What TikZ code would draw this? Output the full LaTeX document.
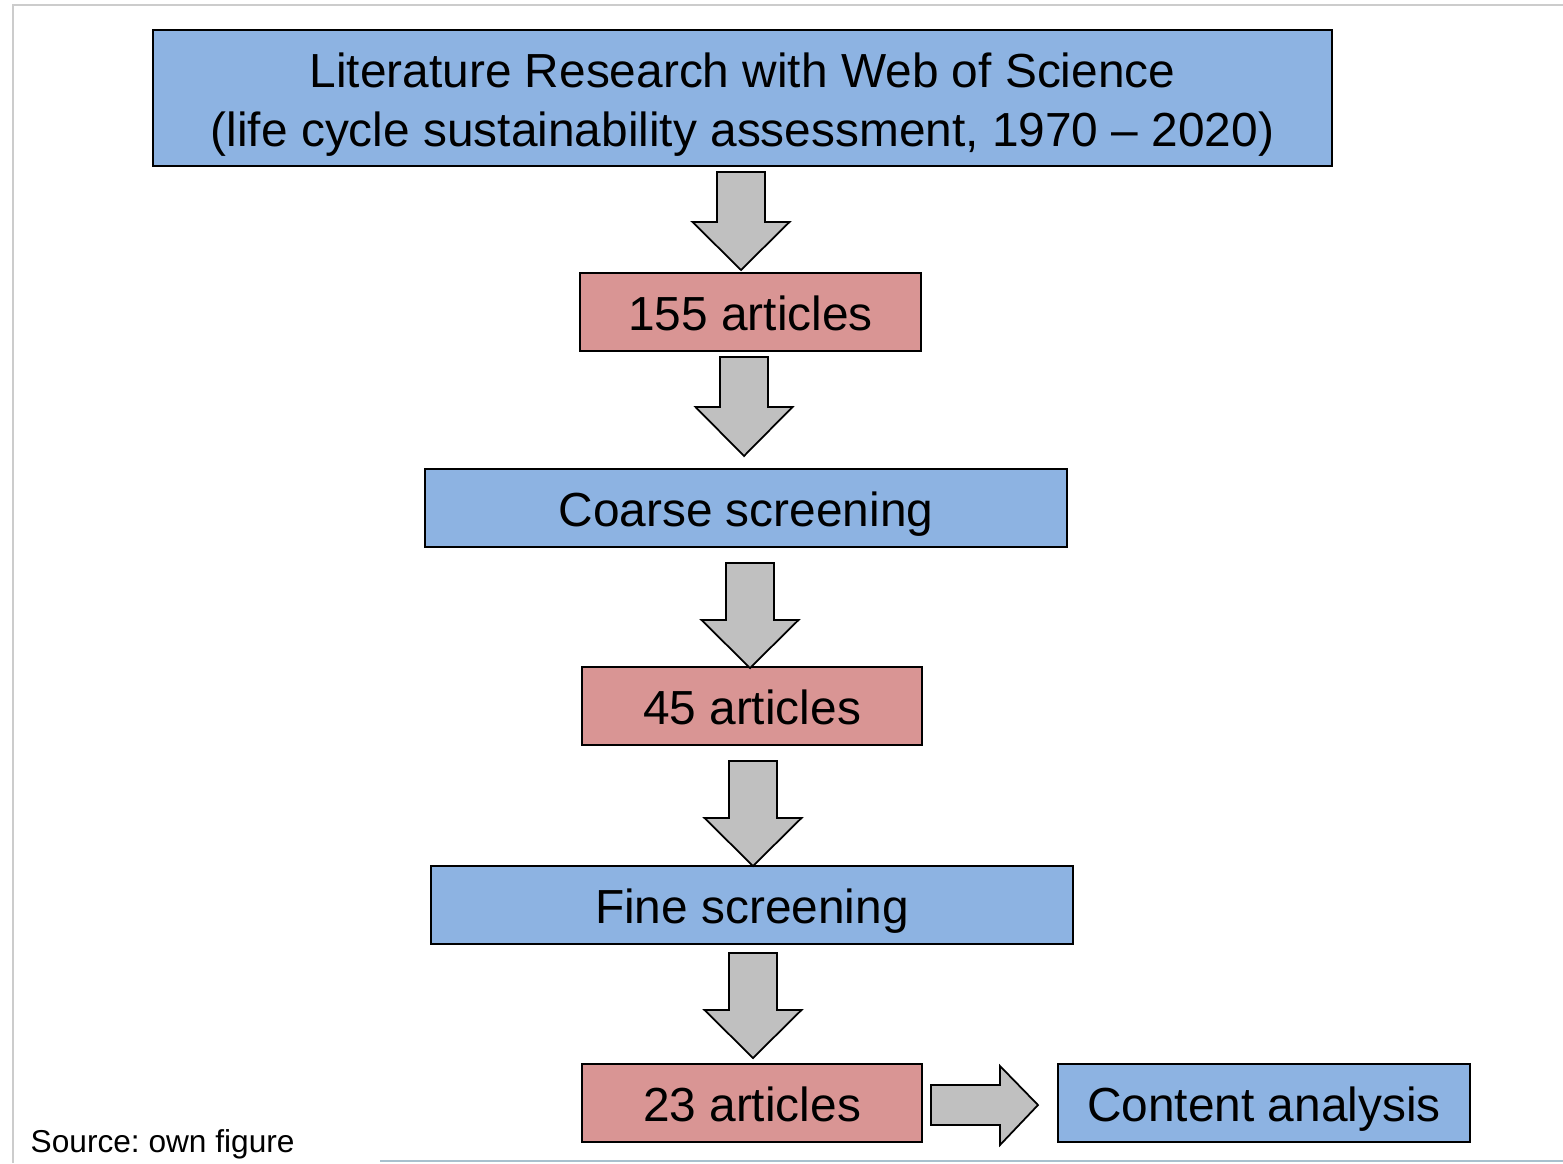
\documentclass[tikz,border=0pt]{standalone}
\usepackage{fontspec}
\setmainfont{Liberation Sans}
\frenchspacing
\definecolor{boxblue}{HTML}{8DB3E2}
\definecolor{boxred}{HTML}{D99594}
\definecolor{arrowgray}{HTML}{C0C0C0}
\definecolor{framegray}{HTML}{CCCCCC}
\definecolor{stripe}{HTML}{A9C0CE}
\newcommand\dnblockarrow[4]{%
  \draw[blockarrow] ({#1-24},#2) -- ({#1+24},#2) -- ({#1+24},#4) -- ({#1+48.5},#4)
    -- (#1,#3) -- ({#1-48.5},#4) -- ({#1-24},#4) -- cycle;}
\begin{document}
\begin{tikzpicture}[x=0.01cm,y=-0.01cm,
  box/.style={draw=black,line width=0.5pt,inner sep=0pt,
    font=\fontsize{13.6}{16.5}\selectfont},
  oneline/.style={text height=16.4pt,text depth=5.8pt},
  bluebox/.style={box,fill=boxblue},
  redbox/.style={box,fill=boxred},
  blockarrow/.style={draw=black,line width=0.5pt,fill=arrowgray,line join=miter}]
\useasboundingbox (0,0) rectangle (1563,1163);
\fill[white] (0,0) rectangle (1563,1163);
\draw[framegray,line width=0.6pt] (13,1163) -- (13,5) -- (1563,5);
\draw[stripe,line width=0.8pt] (380,1161) -- (1563,1161);

\node[bluebox,minimum width=11.79cm,minimum height=1.36cm] (lit) at (742.5,98)
  {\raisebox{-2.1pt}[\height][\depth]{\begin{tabular}{@{}c@{}}Literature Research with Web of Science\\(life cycle sustainability assessment, 1970 -- 2020)\end{tabular}}};
\node[redbox,oneline,minimum width=3.41cm] (a155) at (750.5,312) {155 articles};
\node[bluebox,oneline,minimum width=6.42cm] (coarse) at (746,508) {Coarse screening};
\node[redbox,oneline,minimum width=3.40cm] (a45) at (752,706) {45 articles};
\node[bluebox,oneline,minimum width=6.42cm] (fine) at (752,905) {Fine screening};
\node[redbox,oneline,minimum width=3.40cm] (a23) at (752,1103) {23 articles};
\node[bluebox,oneline,minimum width=4.12cm] (content) at (1264,1103) {Content analysis};

\dnblockarrow{741}{172}{270}{222}
\dnblockarrow{744}{357}{456}{407}
\dnblockarrow{750}{563}{668}{620}
\dnblockarrow{753}{761}{866}{818}
\dnblockarrow{753}{953}{1058}{1010}
\draw[blockarrow] (931,1085) -- (1000,1085) -- (1000,1066) -- (1038,1105)
  -- (1000,1145) -- (1000,1125) -- (931,1125) -- cycle;

\node[anchor=base west,inner sep=0pt,font=\fontsize{9}{11}\selectfont] (src) at (30,1152) {Source: own figure};
\end{tikzpicture}
\end{document}
